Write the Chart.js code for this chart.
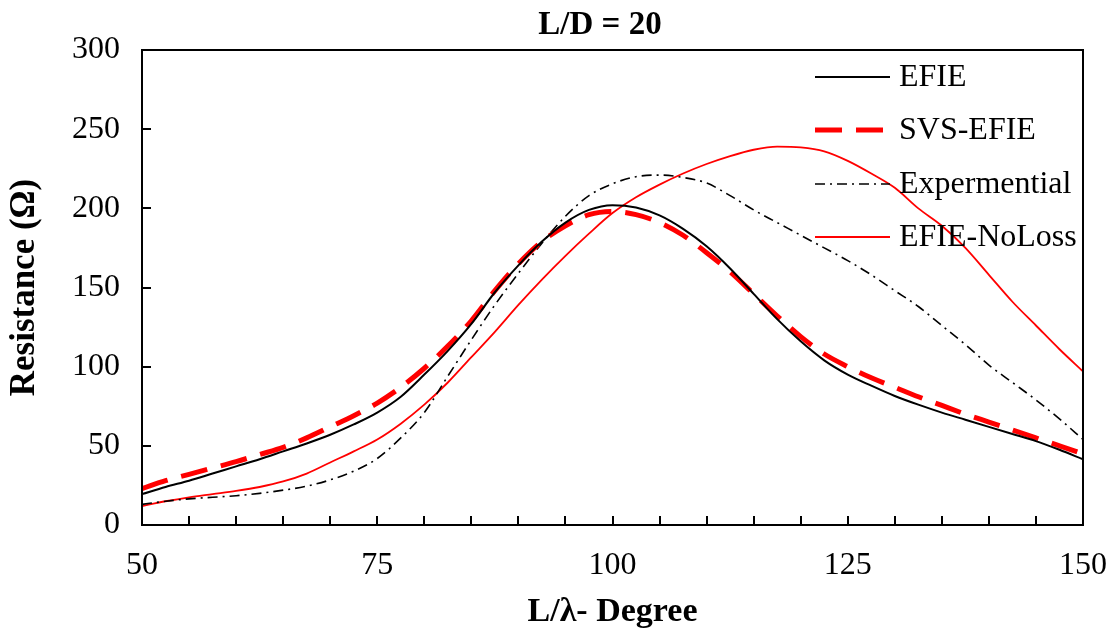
<!DOCTYPE html>
<html>
<head>
<meta charset="utf-8">
<script src="https://cdn.jsdelivr.net/npm/chart.js@4.4.1/dist/chart.umd.min.js"></script>
<style>
html,body{margin:0;padding:0;background:#fff;}
#wrap{width:1118px;height:635px;position:relative;}
</style>
</head>
<body>
<div id="wrap"><canvas id="c" width="1118" height="635"></canvas></div>
<script>
const chartTitle = "L/D = 20";
const xTitle = "L/\u03bb- Degree";
const yTitle = "Resistance (\u03a9)";
const xTickValues = [50, 75, 100, 125, 150];
const yTickValues = [0, 50, 100, 150, 200, 250, 300];
const seriesNames = ["EFIE", "SVS-EFIE", "Expermential", "EFIE-NoLoss"];

const degrees = [50,52.5,55,57.5,60,62.5,65,67.5,70,72.5,75,77.5,80,82.5,85,87.5,90,92.5,95,97.5,100,102.5,105,107.5,110,112.5,115,117.5,120,122.5,125,127.5,130,132.5,135,137.5,140,142.5,145,147.5,150];

const efie = [19.5,24,28,32.5,37,41.5,46.5,51.5,57,63.5,71,81,95,110,127,147,164,179,191,199,202,200.5,195.5,187,176,162,146,130,116,104,95,88,81.5,76,71,66.5,62,57.5,53,47.5,41.5];
const svsEfie = [23,28,32,36,40,44.5,49,55,62,69,77,87,99,113,129,148,165,179,189,196,198,196,191,183,172,160,146,132,119,108,100,93,87,81,75.5,70,65,60,55,50,45];
const experimental = [13,15,16.5,17.5,18.5,20,22,24.5,28.5,34,42,55,71,94,117,139,159,178,195,208,215.5,220,221,219.5,216,208,199,191,183,175,167,158,148,138,126,114,101,90,79,67,54];
const efieNoLoss = [12,15,17.5,19.5,21.5,24,27.5,32.5,39.5,46.5,54,64,76,90,106,122,139,155,170,184,197,207,215,222,228,233,237,239,238.5,236,230,222,213,200,189,175,158,141,126,111,97];

const FONT = "'Liberation Serif','Times New Roman',serif";

function pts(vals){ return degrees.map((d,i)=>({x:d, y:vals[i]})); }

const styles = [
  {borderColor:'#000000', borderWidth:2, borderDash:[]},
  {borderColor:'#ff0000', borderWidth:5, borderDash:[27,14]},
  {borderColor:'#000000', borderWidth:1.6, borderDash:[10,5,2,5]},
  {borderColor:'#ff0000', borderWidth:1.8, borderDash:[]}
];
const seriesData = [efie, svsEfie, experimental, efieNoLoss];
const datasets = seriesNames.map((n,i)=>Object.assign({
  label:n, data:pts(seriesData[i]), pointRadius:0, fill:false,
  cubicInterpolationMode:'monotone'
}, styles[i]));

const framePlugin = {
  id:'frame',
  afterDraw(chart){
    const ctx = chart.ctx, a = chart.chartArea;
    const xs = chart.scales.x, ys = chart.scales.y;
    ctx.save();
    ctx.strokeStyle = '#000'; ctx.lineWidth = 2; ctx.setLineDash([]);
    ctx.strokeRect(a.left, a.top, a.right-a.left, a.bottom-a.top);
    // inward ticks
    ctx.beginPath();
    for (let v = 50; v <= 150; v += 5){
      const px = Math.round(xs.getPixelForValue(v));
      ctx.moveTo(px, a.bottom); ctx.lineTo(px, a.bottom-9);
    }
    yTickValues.forEach(v=>{
      const py = Math.round(ys.getPixelForValue(v));
      ctx.moveTo(a.left, py); ctx.lineTo(a.left+9, py);
    });
    ctx.stroke();
    // title
    ctx.fillStyle = '#000';
    ctx.font = "bold 33px " + FONT;
    ctx.textAlign = 'center'; ctx.textBaseline = 'middle';
    ctx.fillText(chartTitle, 600, 25);
    // legend
    const rows = [77, 130, 184, 237];
    ctx.font = "32px " + FONT;
    ctx.textAlign = 'left';
    chart.data.datasets.forEach((ds,i)=>{
      ctx.beginPath();
      ctx.strokeStyle = ds.borderColor; ctx.lineWidth = ds.borderWidth;
      ctx.setLineDash(ds.borderDash||[]);
      ctx.moveTo(815, rows[i]); ctx.lineTo(890, rows[i]);
      ctx.stroke();
      ctx.setLineDash([]);
      ctx.fillStyle = '#000';
      ctx.fillText(ds.label, 899, rows[i]+1);
    });
    ctx.restore();
  }
};

new Chart(document.getElementById('c'), {
  type:'line',
  data:{datasets},
  options:{
    responsive:false, animation:false,
    layout:{padding:{left:0, right:35, top:50, bottom:0}},
    plugins:{legend:{display:false}, title:{display:false}, tooltip:{enabled:false}},
    scales:{
      x:{
        type:'linear', min:50, max:150,
        afterBuildTicks(s){ s.ticks = xTickValues.map(v=>({value:v})); },
        afterFit(s){ s.height = 110; s.paddingLeft = 0; s.paddingRight = 0; },
        grid:{display:false, drawTicks:false},
        border:{display:false},
        ticks:{padding:21, color:'#000', font:{family:FONT, size:32}},
        title:{display:true, text:xTitle, color:'#000', font:{family:FONT, size:34, weight:'bold'}, padding:{top:0,bottom:2}}
      },
      y:{
        type:'linear', min:0, max:300,
        afterBuildTicks(s){ s.ticks = yTickValues.map(v=>({value:v})); },
        afterFit(s){ s.width = 142; s.paddingTop = 0; s.paddingBottom = 0; },
        grid:{display:false, drawTicks:false},
        border:{display:false},
        ticks:{padding:22, color:'#000', font:{family:FONT, size:32}},
        title:{display:true, text:yTitle, color:'#000', font:{family:FONT, size:35, weight:'bold'}, padding:{top:4,bottom:0}}
      }
    }
  },
  plugins:[framePlugin]
});
</script>
</body>
</html>
